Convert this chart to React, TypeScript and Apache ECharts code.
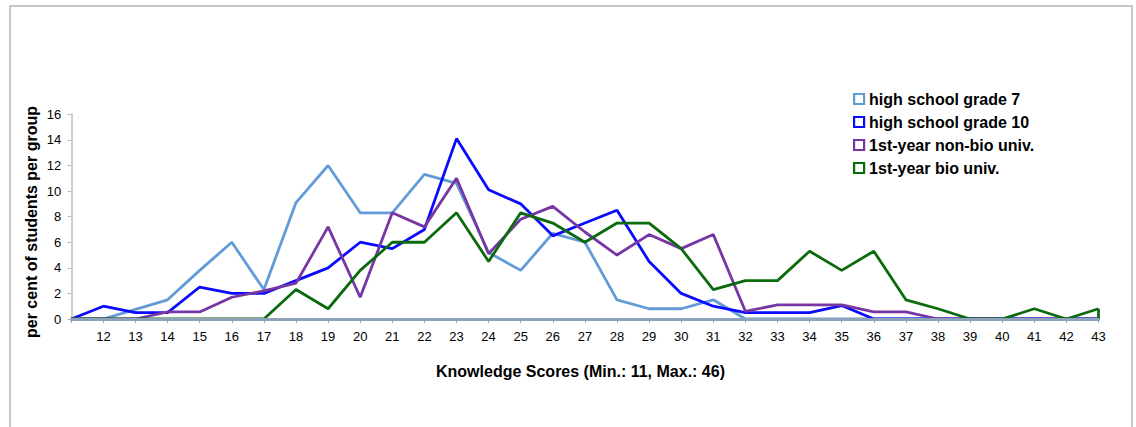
import React, { useEffect, useRef } from "react";
import * as echarts from "echarts";

const scores = [
  "11","12","13","14","15","16","17","18","19","20","21","22","23","24","25","26","27",
  "28","29","30","31","32","33","34","35","36","37","38","39","40","41","42","43",
];

const grade7 = [0, 0, 0.75, 1.5, 3.8, 6.0, 2.3, 9.1, 12.0, 8.3, 8.3, 11.3, 10.6, 5.2, 3.8, 6.7, 6.0, 1.5, 0.8, 0.8, 1.5, 0, 0, 0, 0, 0, 0, 0, 0, 0, 0, 0, 0];
const grade10 = [0, 1.0, 0.5, 0.5, 2.5, 2.0, 2.0, 3.0, 4.0, 6.0, 5.5, 7.0, 14.1, 10.1, 9.0, 6.5, 7.5, 8.5, 4.5, 2.0, 1.0, 0.5, 0.5, 0.5, 1.05, 0, 0, 0, 0, 0, 0, 0, 0];
const nonBio = [0, 0, 0, 0.55, 0.55, 1.7, 2.2, 2.8, 7.2, 1.7, 8.3, 7.2, 11.0, 5.1, 7.8, 8.8, 6.8, 5.0, 6.6, 5.5, 6.6, 0.6, 1.1, 1.1, 1.1, 0.55, 0.55, 0, 0, 0, 0, 0, 0];
const bio = [0, 0, 0, 0, 0, 0, 0, 2.3, 0.8, 3.8, 6.0, 6.0, 8.3, 4.5, 8.3, 7.5, 6.0, 7.5, 7.5, 5.5, 2.3, 3.0, 3.0, 5.3, 3.8, 5.3, 1.5, 0.8, 0, 0, 0.8, 0, 0.8];

const seriesNames = ["high school grade 7", "high school grade 10", "1st-year non-bio univ.", "1st-year bio univ."];
const seriesData = [grade7, grade10, nonBio, bio];
const colors = ["#629bd8", "#0a0aff", "#7636a4", "#0b6a0b"];

const yTicks = { min: 0, max: 16, interval: 2 };
const xTitle = "Knowledge Scores (Min.: 11, Max.: 46)";
const yTitle = "per cent of students per group";

export default function App() {
  const ref = useRef<HTMLDivElement>(null);
  useEffect(() => {
    if (!ref.current) return;
    const chart = echarts.init(ref.current, null, { renderer: "svg" });
    const font = "'Liberation Sans', Arial, sans-serif";
    const lastIdx = scores.length - 1;
    chart.setOption({
      animation: false,
      backgroundColor: "#ffffff",
      textStyle: { fontFamily: font },
      grid: { left: 71.3, right: 37.5, top: 114.3, bottom: 108, containLabel: false },
      legend: {
        orient: "vertical",
        left: 853,
        top: 91,
        padding: 0,
        itemWidth: 10,
        itemHeight: 10,
        itemGap: 7,
        icon: "rect",
        textStyle: { fontFamily: font, fontSize: 16, fontWeight: "bold", color: "#000" },
        data: seriesNames.map((n, i) => ({
          name: n,
          itemStyle: { color: "#ffffff", borderColor: colors[i], borderWidth: 2.2 },
        })),
      },
      xAxis: {
        type: "category",
        data: scores,
        boundaryGap: false,
        z: 5,
        axisLine: { show: true, lineStyle: { color: "#8da2b9", width: 3 } },
        axisTick: { show: true, length: 4, lineStyle: { color: "#8da2b9", width: 1 }, alignWithLabel: true, interval: 0 },
        axisLabel: {
          interval: 0,
          margin: 11,
          fontSize: 13,
          color: "#000",
          fontFamily: font,
          formatter: (v: string, i: number) => (i === 0 ? "" : v),
        },
        splitLine: { show: false },
      },
      yAxis: {
        type: "value",
        min: yTicks.min,
        max: yTicks.max,
        interval: yTicks.interval,
        axisLine: { show: true, lineStyle: { color: "#bfbfbf", width: 1.5 } },
        axisTick: { show: true, length: 4, lineStyle: { color: "#bfbfbf" } },
        axisLabel: { margin: 10, fontSize: 13, color: "#000", fontFamily: font },
        splitLine: { show: false },
      },
      series: seriesNames.map((n, i) => ({
        name: n,
        type: "line",
        data: seriesData[i],
        symbol: "none",
        lineStyle: { color: colors[i], width: 2.8 },
        itemStyle: { color: colors[i] },
        ...(i === 3
          ? {
              markLine: {
                silent: true,
                symbol: "none",
                label: { show: false },
                lineStyle: { color: colors[i], width: 2.8, type: "solid" },
                data: [[{ coord: [scores[lastIdx], 0] }, { coord: [scores[lastIdx], bio[lastIdx]] }]],
              },
            }
          : {}),
      })),
      graphic: [
        {
          type: "rect",
          shape: { x: 10, y: 6, width: 1122, height: 440 },
          style: { fill: "none", stroke: "#b5b5b5", lineWidth: 1.5 },
          silent: true,
        },
        {
          type: "text",
          x: 580.5,
          y: 371,
          style: {
            text: xTitle,
            fontFamily: font,
            fontSize: 16,
            fontWeight: "bold",
            fill: "#000",
            align: "center",
            verticalAlign: "middle",
          },
        },
        {
          type: "text",
          x: 31,
          y: 222,
          rotation: Math.PI / 2,
          style: {
            text: yTitle,
            fontFamily: font,
            fontSize: 16,
            fontWeight: "bold",
            fill: "#000",
            align: "center",
            verticalAlign: "middle",
          },
        },
      ],
    });
    return () => chart.dispose();
  }, []);
  return (
    <div
      ref={ref}
      style={{ position: "fixed", left: 0, top: 0, width: 1136, height: 427, background: "#fff" }}
    />
  );
}
